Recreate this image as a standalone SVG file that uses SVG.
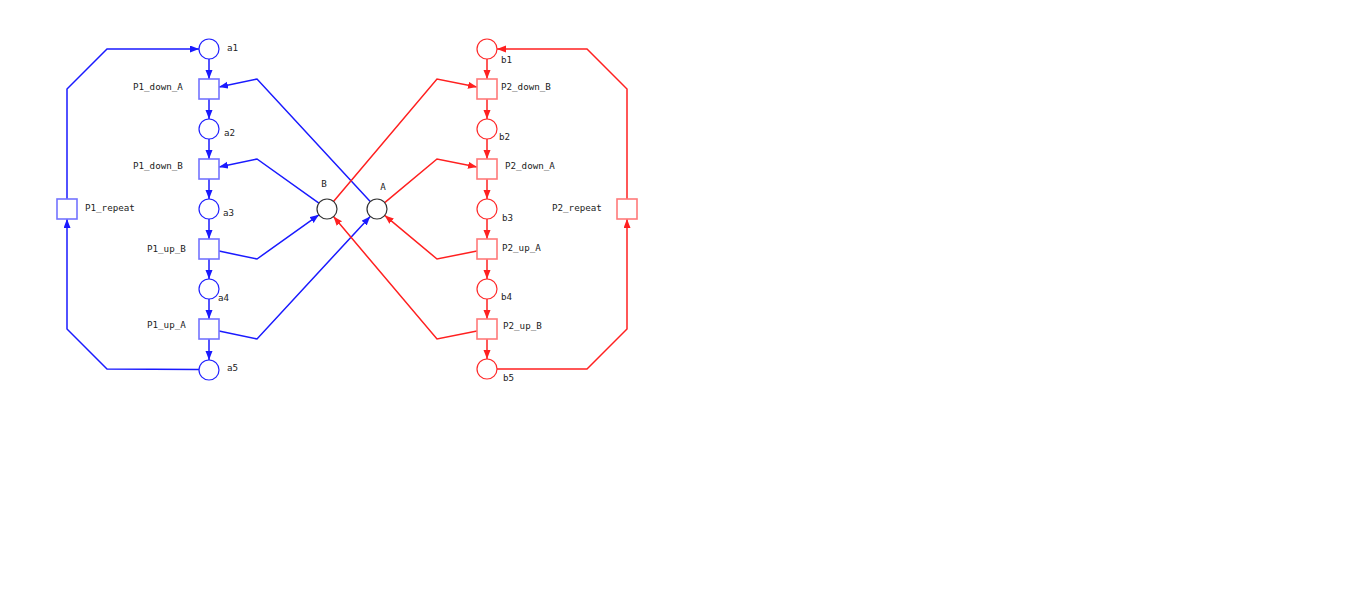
<svg xmlns="http://www.w3.org/2000/svg" width="1350" height="591" viewBox="0 0 1350 591">
<style>
.bg{fill:#ffffff}
.pb{fill:#fff;stroke:#2222ff;stroke-width:1.2}
.tb{fill:#fff;stroke:#7373ff;stroke-width:1.6}
.pr{fill:#fff;stroke:#ff2a2a;stroke-width:1.2}
.tr{fill:#fff;stroke:#ff7a7a;stroke-width:1.6}
.pk{fill:#fff;stroke:#333;stroke-width:1.2}
.eb{fill:none;stroke:#1a1aff;stroke-width:1.5}
.er{fill:none;stroke:#ff2020;stroke-width:1.5}
text{font-family:"DejaVu Sans Mono","Liberation Mono",monospace;font-size:9.2px;fill:#222}
</style>
<defs>
<marker id="ab" markerUnits="userSpaceOnUse" markerWidth="10" markerHeight="8" refX="9" refY="3.5" orient="auto"><path d="M0,0 L9,3.5 L0,7 z" fill="#1a1aff"/></marker>
<marker id="ar" markerUnits="userSpaceOnUse" markerWidth="10" markerHeight="8" refX="9" refY="3.5" orient="auto"><path d="M0,0 L9,3.5 L0,7 z" fill="#ff2020"/></marker>
</defs>
<rect class="bg" x="0" y="0" width="1350" height="591"/>
<g id="connectors">
<path class="eb" marker-end="url(#ab)" d="M209,59 L209,79"/>
<path class="eb" marker-end="url(#ab)" d="M209,99 L209,119"/>
<path class="eb" marker-end="url(#ab)" d="M209,139 L209,159"/>
<path class="eb" marker-end="url(#ab)" d="M209,179 L209,199"/>
<path class="eb" marker-end="url(#ab)" d="M209,219 L209,239"/>
<path class="eb" marker-end="url(#ab)" d="M209,259 L209,279"/>
<path class="eb" marker-end="url(#ab)" d="M209,299 L209,319"/>
<path class="eb" marker-end="url(#ab)" d="M209,339 L209,360"/>
<path class="eb" marker-end="url(#ab)" d="M199,369.5 L107,369 L67,329 L67,219"/>
<path class="eb" marker-end="url(#ab)" d="M67,199 L67,89 L107,49 L199,49"/>
<path class="eb" marker-end="url(#ab)" d="M370.2,201.6 L257,79 L219,86.9"/>
<path class="eb" marker-end="url(#ab)" d="M318.9,203.2 L257,159 L219,166.9"/>
<path class="eb" marker-end="url(#ab)" d="M219,251.1 L257,259 L318.9,214.8"/>
<path class="eb" marker-end="url(#ab)" d="M219,331.1 L257,339 L370.2,216.4"/>
<path class="er" marker-end="url(#ar)" d="M487,59 L487,79"/>
<path class="er" marker-end="url(#ar)" d="M487,99 L487,119"/>
<path class="er" marker-end="url(#ar)" d="M487,139 L487,159"/>
<path class="er" marker-end="url(#ar)" d="M487,179 L487,199"/>
<path class="er" marker-end="url(#ar)" d="M487,219 L487,239"/>
<path class="er" marker-end="url(#ar)" d="M487,259 L487,279"/>
<path class="er" marker-end="url(#ar)" d="M487,299 L487,319"/>
<path class="er" marker-end="url(#ar)" d="M487,339 L487,359"/>
<path class="er" marker-end="url(#ar)" d="M497,369 L587,369 L627,329 L627,219"/>
<path class="er" marker-end="url(#ar)" d="M627,199 L627,89 L587,49 L497,49"/>
<path class="er" marker-end="url(#ar)" d="M333.5,201.4 L437,79 L477,87"/>
<path class="er" marker-end="url(#ar)" d="M384.7,202.6 L437,159 L477,167"/>
<path class="er" marker-end="url(#ar)" d="M477,251 L437,259 L384.7,215.4"/>
<path class="er" marker-end="url(#ar)" d="M477,331 L437,339 L333.5,216.6"/>
</g>
<g id="a1"><circle class="pb" cx="209" cy="49" r="10"/><text x="227" y="51">a1</text></g>
<g id="P1_down_A"><rect class="tb" x="199" y="79" width="20" height="20"/><text x="133" y="90">P1_down_A</text></g>
<g id="a2"><circle class="pb" cx="209" cy="129" r="10"/><text x="224" y="136">a2</text></g>
<g id="P1_down_B"><rect class="tb" x="199" y="159" width="20" height="20"/><text x="133" y="169">P1_down_B</text></g>
<g id="a3"><circle class="pb" cx="209" cy="209" r="10"/><text x="223" y="216">a3</text></g>
<g id="P1_up_B"><rect class="tb" x="199" y="239" width="20" height="20"/><text x="147" y="252">P1_up_B</text></g>
<g id="a4"><circle class="pb" cx="209" cy="289" r="10"/><text x="218" y="301">a4</text></g>
<g id="P1_up_A"><rect class="tb" x="199" y="319" width="20" height="20"/><text x="147" y="328">P1_up_A</text></g>
<g id="a5"><circle class="pb" cx="209" cy="370" r="10"/><text x="227" y="371">a5</text></g>
<g id="P1_repeat"><rect class="tb" x="57" y="199" width="20" height="20"/><text x="85" y="211">P1_repeat</text></g>
<g id="B"><circle class="pk" cx="327" cy="209" r="10"/><text x="324" y="187" text-anchor="middle">B</text></g>
<g id="A"><circle class="pk" cx="377" cy="209" r="10"/><text x="383" y="190" text-anchor="middle">A</text></g>
<g id="b1"><circle class="pr" cx="487" cy="49" r="10"/><text x="501" y="63">b1</text></g>
<g id="P2_down_B"><rect class="tr" x="477" y="79" width="20" height="20"/><text x="501" y="90">P2_down_B</text></g>
<g id="b2"><circle class="pr" cx="487" cy="129" r="10"/><text x="499" y="140">b2</text></g>
<g id="P2_down_A"><rect class="tr" x="477" y="159" width="20" height="20"/><text x="505" y="169">P2_down_A</text></g>
<g id="b3"><circle class="pr" cx="487" cy="209" r="10"/><text x="502" y="221">b3</text></g>
<g id="P2_up_A"><rect class="tr" x="477" y="239" width="20" height="20"/><text x="502" y="251">P2_up_A</text></g>
<g id="b4"><circle class="pr" cx="487" cy="289" r="10"/><text x="501" y="300">b4</text></g>
<g id="P2_up_B"><rect class="tr" x="477" y="319" width="20" height="20"/><text x="503" y="329">P2_up_B</text></g>
<g id="b5"><circle class="pr" cx="487" cy="369" r="10"/><text x="503" y="381">b5</text></g>
<g id="P2_repeat"><rect class="tr" x="617" y="199" width="20" height="20"/><text x="552" y="211">P2_repeat</text></g>
</svg>
